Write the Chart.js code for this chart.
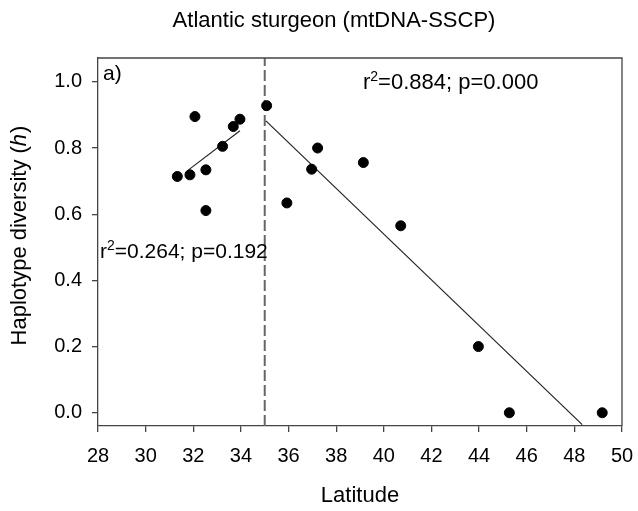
<!DOCTYPE html>
<html>
<head>
<meta charset="utf-8">
<script src="https://cdn.jsdelivr.net/npm/chart.js@4.4.1/dist/chart.umd.min.js"></script>
<style>
  html, body { margin: 0; padding: 0; background: #fff; }
  #wrap { width: 638px; height: 511px; }
</style>
</head>
<body>
<div id="wrap"><canvas id="chart" width="638" height="511"></canvas></div>
<script>
// values
const latitude = [31.33, 31.86, 32.07, 32.53, 32.53, 33.23, 33.68, 33.96, 35.08, 35.93, 36.97, 37.22, 39.14, 40.71, 43.97, 45.27, 49.17];
const haploDiv = [0.714, 0.719, 0.895, 0.734, 0.611, 0.805, 0.865, 0.887, 0.928, 0.634, 0.736, 0.800, 0.756, 0.565, 0.200, 0.0, 0.0];

const southFitX = [31.8, 33.96];
const southFitY = [0.734, 0.852];
const northFitX = [35.05, 48.33];
const northFitY = [0.882, -0.036];

const breakLat = 35;
const xTicks = [28, 30, 32, 34, 36, 38, 40, 42, 44, 46, 48, 50];
const yTicks = [0, 0.2, 0.4, 0.6, 0.8, 1.0];

const FONT = "'Liberation Sans', Arial, sans-serif";
const yMin = -0.04, yMax = 1.072;

const pts = latitude.map((x, i) => ({ x, y: haploDiv[i] }));
const toPts = (xs, ys) => xs.map((x, i) => ({ x, y: ys[i] }));

// text, frame, superscripts
const extras = {
  id: "extras",
  afterDraw(chart) {
    const ctx = chart.ctx, a = chart.chartArea;
    ctx.save();
    ctx.strokeStyle = "#444";
    ctx.lineWidth = 1.3;
    ctx.beginPath();
    ctx.moveTo(a.left, a.top);
    ctx.lineTo(a.right, a.top);
    ctx.lineTo(a.right, a.bottom);
    ctx.stroke();

    ctx.fillStyle = "#000";
    ctx.textBaseline = "alphabetic";
    ctx.font = "22px " + FONT;
    ctx.textAlign = "center";
    ctx.fillText("Atlantic sturgeon (mtDNA-SSCP)", 334, 27);
    ctx.fillText("Latitude", (a.left + a.right) / 2, 502);

    ctx.textAlign = "left";
    ctx.font = "21px " + FONT;
    ctx.fillText("a)", a.left + 5, 80);
    rsq(ctx, "0.884; p=0.000", 363, 89, 22);
    rsq(ctx, "0.264; p=0.192", 100, 258, 21);

    // y title with italic h
    ctx.translate(26, 236);
    ctx.rotate(-Math.PI / 2);
    const p1 = "Haplotype diversity (", p2 = "h", p3 = ")";
    ctx.font = "22px " + FONT;
    const w1 = ctx.measureText(p1).width, w3 = ctx.measureText(p3).width;
    ctx.font = "italic 22px " + FONT;
    const w2 = ctx.measureText(p2).width;
    let x = -(w1 + w2 + w3) / 2;
    ctx.font = "22px " + FONT;
    ctx.fillText(p1, x, 0);
    ctx.font = "italic 22px " + FONT;
    ctx.fillText(p2, x + w1, 0);
    ctx.font = "22px " + FONT;
    ctx.fillText(p3, x + w1 + w2 + 1, 0);
    ctx.restore();
  }
};

function rsq(ctx, rest, x, y, size) {
  ctx.font = size + "px " + FONT;
  ctx.fillText("r", x, y);
  let w = ctx.measureText("r").width;
  ctx.font = Math.round(size * 0.65) + "px " + FONT;
  ctx.fillText("2", x + w, y - 8);
  w += ctx.measureText("2").width;
  ctx.font = size + "px " + FONT;
  ctx.fillText("=" + rest, x + w, y);
}

new Chart(document.getElementById("chart"), {
  type: "scatter",
  data: {
    datasets: [
      {
        data: pts,
        backgroundColor: "#000",
        borderColor: "#000",
        pointRadius: 5,
        pointHoverRadius: 5
      },
      {
        data: toPts(southFitX, southFitY),
        showLine: true,
        borderColor: "#222",
        borderWidth: 1.2,
        pointRadius: 0
      },
      {
        data: toPts(northFitX, northFitY),
        showLine: true,
        borderColor: "#222",
        borderWidth: 1.2,
        pointRadius: 0
      },
      {
        data: [{ x: breakLat, y: yMin }, { x: breakLat, y: yMax }],
        showLine: true,
        borderColor: "#666",
        borderWidth: 2,
        borderDash: [11, 4],
        pointRadius: 0
      }
    ]
  },
  options: {
    responsive: false,
    animation: false,
    layout: { padding: { top: 58, right: 16, left: 0, bottom: 0 } },
    plugins: {
      legend: { display: false },
      tooltip: { enabled: false },
      title: { display: false }
    },
    scales: {
      x: {
        type: "linear",
        min: 28,
        max: 50,
        afterBuildTicks: s => { s.ticks = xTicks.map(v => ({ value: v })); },
        afterFit: s => { s.height = 85; s.paddingLeft = 0; s.paddingRight = 0; },
        grid: { display: true, drawOnChartArea: false, drawTicks: true, tickLength: 6, color: "#444", lineWidth: 1.3 },
        border: { display: true, color: "#444", width: 1.3 },
        ticks: { color: "#000", font: { family: FONT, size: 20 }, padding: 12, maxRotation: 0, autoSkip: false }
      },
      y: {
        type: "linear",
        min: yMin,
        max: yMax,
        afterBuildTicks: s => { s.ticks = yTicks.map(v => ({ value: v })); },
        afterFit: s => { s.width = 98; s.paddingTop = 0; s.paddingBottom = 0; },
        grid: { display: true, drawOnChartArea: false, drawTicks: true, tickLength: 6, color: "#444", lineWidth: 1.3 },
        border: { display: true, color: "#444", width: 1.3 },
        ticks: { color: "#000", font: { family: FONT, size: 20 }, padding: 10, callback: v => v.toFixed(1) }
      }
    }
  },
  plugins: [extras]
});
</script>
</body>
</html>
